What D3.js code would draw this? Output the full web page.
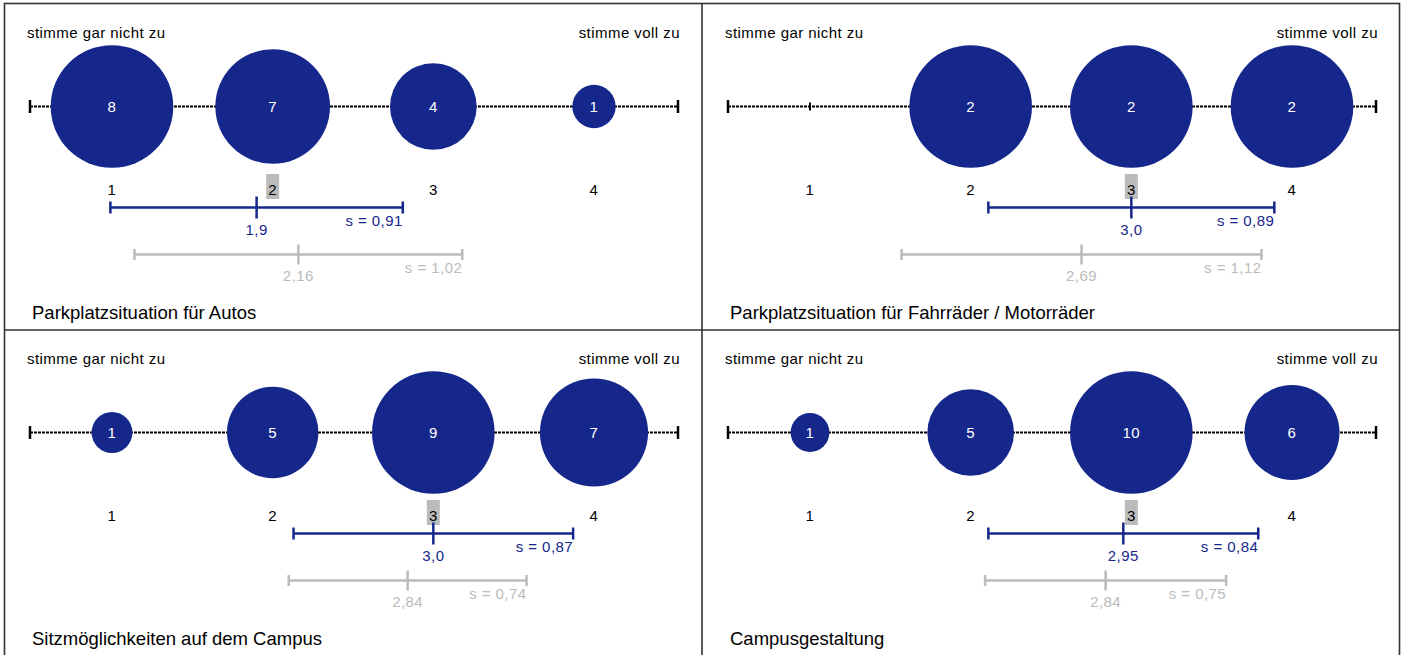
<!DOCTYPE html>
<html>
<head>
<meta charset="utf-8">
<script src="https://cdn.jsdelivr.net/npm/d3@7"></script>
<style>
  html, body { margin: 0; padding: 0; background: #fff; }
  svg { display: block; }
  text { font-family: "Liberation Sans", Arial, sans-serif; }
  .lbl { font-size: 15px; letter-spacing: 0.45px; }
</style>
</head>
<body>
<svg id="chart" width="1404" height="655"></svg>
<script>
// answer scale
const categories = [1, 2, 3, 4]
const leftLabel = "stimme gar nicht zu"
const rightLabel = "stimme voll zu"

// one entry per panel
const titles = [
  "Parkplatzsituation für Autos",
  "Parkplatzsituation für Fahrräder / Motorräder",
  "Sitzmöglichkeiten auf dem Campus",
  "Campusgestaltung"
]
const counts = [
  [8, 7, 4, 1],
  [0, 2, 2, 2],
  [1, 5, 9, 7],
  [1, 5, 10, 6]
]
const modes = [2, 3, 3, 3]
const means = [1.9, 3.0, 3.0, 2.95]
const sds = [0.91, 0.89, 0.87, 0.84]
// comparison values (grey)
const compMeans = [2.16, 2.69, 2.84, 2.84]
const compSds = [1.02, 1.12, 0.74, 0.75]

const blue = "#16278c"
const grey = "#bbbbbb"
const panelW = 698, panelH = 326

const svg = d3.select("#chart")

const x = d3.scaleLinear().domain([1, 4]).range([112, 594])
const fmtMean = v => (Math.abs(v * 10 - Math.round(v * 10)) < 1e-9 ? v.toFixed(1) : v.toFixed(2)).replace(".", ",")
const fmtSd = v => "s = " + v.toFixed(2).replace(".", ",")

titles.forEach((title, p) => {
  const g = svg.append("g")
    .attr("transform", `translate(${(p % 2) * panelW},${Math.floor(p / 2) * panelH})`)
  const data = counts[p]
  const r = d3.scaleSqrt().domain([0, d3.max(data)]).range([0, 61.3])
  const axisY = 106.5

  // end labels
  g.append("text").attr("class", "lbl").attr("x", 27).attr("y", 38).text(leftLabel)
  g.append("text").attr("class", "lbl").attr("x", 680).attr("y", 38)
    .attr("text-anchor", "end").text(rightLabel)

  // dashed scale line
  const [x0, x1] = [x.invert(30), x.invert(678)]
  g.append("line")
    .attr("x1", x(x0)).attr("x2", x(x1)).attr("y1", axisY).attr("y2", axisY)
    .attr("stroke", "#000").attr("stroke-width", 2.2).attr("stroke-dasharray", "3,1")
  g.selectAll(".endtick").data([x0, x1]).enter().append("line")
    .attr("x1", d => x(d)).attr("x2", d => x(d))
    .attr("y1", axisY - 6.5).attr("y2", axisY + 6.5)
    .attr("stroke", "#000").attr("stroke-width", 2.5)

  // bubbles
  const pts = categories.map((c, i) => ({ c, n: data[i] }))
  g.selectAll(".zero").data(pts.filter(d => d.n === 0)).enter().append("line")
    .attr("x1", d => x(d.c)).attr("x2", d => x(d.c))
    .attr("y1", axisY - 4).attr("y2", axisY + 4)
    .attr("stroke", "#000").attr("stroke-width", 2)
  const bub = pts.filter(d => d.n > 0)
  g.selectAll("circle").data(bub).enter().append("circle")
    .attr("cx", d => x(d.c)).attr("cy", axisY).attr("r", d => r(d.n))
    .attr("fill", blue)
  g.selectAll(".cnt").data(bub).enter().append("text")
    .attr("class", "lbl")
    .attr("x", d => x(d.c)).attr("y", axisY + 5.5)
    .attr("text-anchor", "middle").attr("fill", "#fff").text(d => d.n)

  // category labels with mode highlight
  g.append("rect")
    .attr("x", x(modes[p]) - 6.5).attr("y", 174).attr("width", 13).attr("height", 25)
    .attr("fill", grey)
  g.selectAll(".cat").data(categories).enter().append("text")
    .attr("class", "lbl")
    .attr("x", d => x(d)).attr("y", 194.5)
    .attr("text-anchor", "middle").attr("fill", "#000").text(d => d)

  // mean +- sd bars
  const bars = [
    { m: means[p], s: sds[p], y: 207.5, col: blue, end: 6, mid: 11, ly: 235, sy: 226 },
    { m: compMeans[p], s: compSds[p], y: 254.5, col: grey, end: 5.5, mid: 10, ly: 281, sy: 272.5 }
  ]
  bars.forEach(b => {
    g.append("line")
      .attr("x1", x(b.m - b.s)).attr("x2", x(b.m + b.s)).attr("y1", b.y).attr("y2", b.y)
      .attr("stroke", b.col).attr("stroke-width", 2.5)
    g.selectAll(null).data([b.m - b.s, b.m + b.s]).enter().append("line")
      .attr("x1", d => x(d)).attr("x2", d => x(d))
      .attr("y1", b.y - b.end).attr("y2", b.y + b.end)
      .attr("stroke", b.col).attr("stroke-width", 2.5)
    g.append("line")
      .attr("x1", x(b.m)).attr("x2", x(b.m)).attr("y1", b.y - b.mid).attr("y2", b.y + b.mid)
      .attr("stroke", b.col).attr("stroke-width", 2.5)
    g.append("text").attr("class", "lbl").attr("x", x(b.m)).attr("y", b.ly)
      .attr("text-anchor", "middle").attr("fill", b.col).text(fmtMean(b.m))
    g.append("text").attr("class", "lbl").attr("x", x(b.m + b.s)).attr("y", b.sy)
      .attr("text-anchor", "end").attr("fill", b.col).text(fmtSd(b.s))
  })

  // title
  g.append("text").attr("x", 32).attr("y", 318.5).attr("font-size", 18.5).text(title)
})

// panel frame
const frame = svg.append("g").attr("stroke", "#333").attr("stroke-width", 1.6).attr("fill", "none")
frame.append("rect").attr("x", 4.5).attr("y", 3.5).attr("width", 1395).attr("height", 700)
frame.append("line").attr("x1", 702).attr("x2", 702).attr("y1", 3).attr("y2", 655)
frame.append("line").attr("x1", 4).attr("x2", 1400).attr("y1", 330).attr("y2", 330)
</script>
</body>
</html>
